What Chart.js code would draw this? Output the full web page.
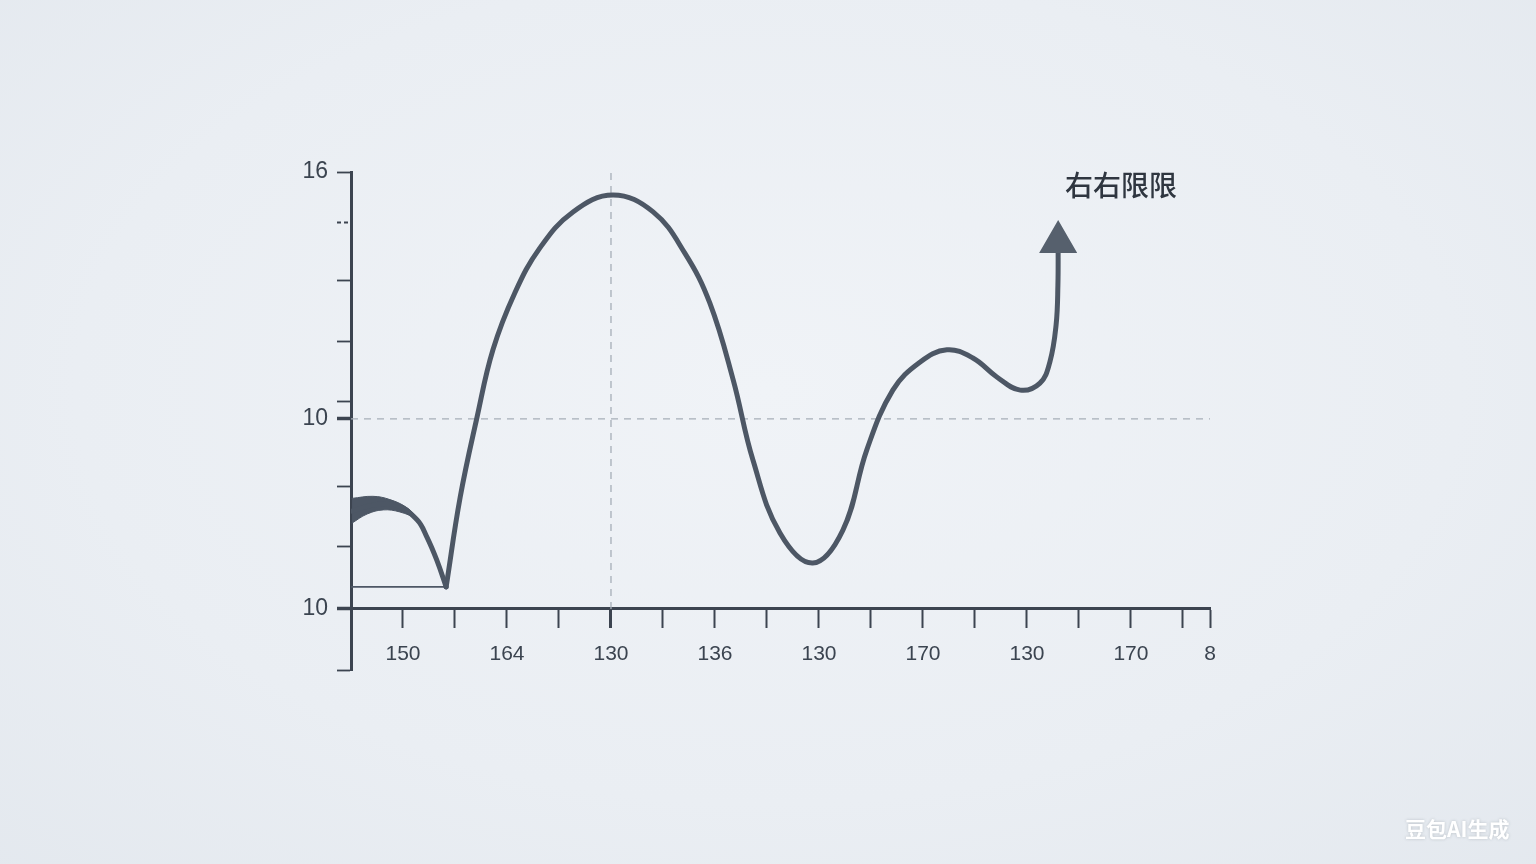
<!DOCTYPE html>
<html lang="zh">
<head>
<meta charset="utf-8">
<title>右右限限</title>
<script src="https://cdn.jsdelivr.net/npm/chart.js@4.4.1/dist/chart.umd.min.js"></script>
<style>
html, body { margin: 0; padding: 0; width: 1536px; height: 864px; overflow: hidden; }
body {
  position: relative;
  background: radial-gradient(ellipse 75% 80% at 50% 45%, #f0f3f7 0%, #eaeef3 60%, #e3e8ee 100%);
}
#chart { position: absolute; left: 0; top: 0; }
.note {
  position: absolute; left: 1065px; top: 169px;
  font: 500 28px/30px "Noto Sans CJK SC", sans-serif;
  color: #2f3640; white-space: nowrap;
}
.mark {
  position: absolute; left: 1405px; top: 815px;
  font: 700 21px/26px "Noto Sans CJK SC", sans-serif;
  color: #ffffff; text-shadow: 0 0 3px rgba(60, 70, 80, 0.25);
  white-space: nowrap;
}
</style>
</head>
<body>
<canvas id="chart" width="1536" height="864"></canvas>
<div class="note">右右限限</div>
<div class="mark">豆包AI生成</div>
<script>
// axis ticks (x in tick units, y in axis units)
const xTickVals = [1, 2, 3, 4, 5, 6, 7, 8, 9, 10, 11, 12, 13, 14, 15, 16, 16.52];
const xTickLabels = ['150', '', '164', '', '130', '', '136', '', '130', '', '170', '', '130', '', '170', '', '8'];
const yTickVals = [3.9, 5.383, 6.889, 8.347, 10, 10.412, 11.87, 13.352, 14.785, 16];
const yTickLabels = ['', '10', '', '', '10', '', '', '', '', '16'];
const axisLevel = 5.383;

// thick blob at the start of the curve
const blobTopX = [0.02, 0.42, 0.75, 1.08, 1.29];
const blobTopY = [8.07, 8.12, 8.04, 7.84, 7.57];
const blobBotX = [0.02, 0.31, 0.62, 0.94, 1.29];
const blobBotY = [7.47, 7.69, 7.79, 7.74, 7.57];

// curve, left part down to the sharp dip
const leftArcX = [0.02, 0.40, 0.85, 1.27, 1.46, 1.65, 1.83];
const leftArcY = [7.76, 7.90, 7.92, 7.55, 7.13, 6.57, 5.92];

// curve, from the dip to the arrow
const mainArcX = [1.83, 2.10, 2.42, 2.73, 3.15, 3.63, 4.27, 5.04, 5.81, 6.42, 6.90, 7.35, 7.73,
  8.25, 8.88, 9.46, 9.92, 10.42, 10.94, 11.46, 11.96, 12.42, 12.87, 13.25, 13.44, 13.56, 13.595, 13.60];
const mainArcY = [5.92, 8.10, 10.02, 11.68, 13.06, 14.15, 15.03, 15.44, 15.03, 14.03, 12.82, 10.95, 9.00,
  7.23, 6.50, 7.30, 9.25, 10.70, 11.38, 11.68, 11.48, 11.02, 10.70, 10.87, 11.38, 12.28, 13.25, 14.30];

// thin line under the dip, dashed guides
const baseX = [0, 1.83];
const baseY = [5.92, 5.92];
const hGuideX = [0, 16.52];
const hGuideY = [10, 10];
const vGuideX = [5, 5];
const vGuideY = [axisLevel, 16];

const ink = '#4d5765';
const axisInk = '#3c4450';

function pts(xs, ys) {
  return xs.map((x, i) => ({ x: x, y: ys[i] }));
}

const lineBase = { pointRadius: 0, fill: false, tension: 0, borderCapStyle: 'round', borderJoinStyle: 'round' };

new Chart(document.getElementById('chart'), {
  type: 'line',
  data: {
    datasets: [
      Object.assign({}, lineBase, {
        data: pts(blobTopX, blobTopY), borderColor: ink, borderWidth: 1,
        backgroundColor: ink, fill: '+1', tension: 0.4, order: 1
      }),
      Object.assign({}, lineBase, {
        data: pts(blobBotX, blobBotY), borderColor: ink, borderWidth: 1,
        tension: 0.4, order: 1
      }),
      Object.assign({}, lineBase, {
        data: pts(leftArcX, leftArcY), borderColor: ink, borderWidth: 5,
        tension: 0.4, order: 0
      }),
      Object.assign({}, lineBase, {
        data: pts(mainArcX, mainArcY), borderColor: ink, borderWidth: 5,
        tension: 0.4, order: 0,
        pointStyle: 'triangle',
        pointRadius: c => c.dataIndex === mainArcX.length - 1 ? 19 : 0,
        pointBackgroundColor: '#56606d', pointBorderColor: '#56606d', pointBorderWidth: 3
      }),
      Object.assign({}, lineBase, {
        data: pts(baseX, baseY), borderColor: ink, borderWidth: 1.8, order: 2
      }),
      Object.assign({}, lineBase, {
        data: pts(hGuideX, hGuideY), borderColor: '#a6aeb8', borderWidth: 1.3,
        borderDash: [7, 6], borderCapStyle: 'butt', order: 3
      }),
      Object.assign({}, lineBase, {
        data: pts(vGuideX, vGuideY), borderColor: '#a6aeb8', borderWidth: 1.3,
        borderDash: [7, 6], borderCapStyle: 'butt', order: 3
      })
    ]
  },
  options: {
    responsive: false,
    animation: false,
    events: [],
    devicePixelRatio: 1,
    layout: { padding: { top: 172, right: 326, bottom: 194, left: 0 } },
    plugins: {
      legend: { display: false },
      tooltip: { enabled: false },
      title: { display: false }
    },
    scales: {
      x: {
        type: 'linear',
        min: 0,
        max: 16.52,
        position: { y: axisLevel },
        afterBuildTicks: s => { s.ticks = xTickVals.map(v => ({ value: v })); },
        border: { display: true, color: axisInk, width: 3 },
        grid: {
          drawOnChartArea: false,
          drawTicks: true,
          tickLength: 18,
          tickColor: axisInk,
          tickWidth: c => (c.tick && c.tick.value === 5 ? 3 : 2)
        },
        ticks: {
          autoSkip: false,
          maxRotation: 0,
          padding: 15,
          color: '#3b4450',
          font: { family: "'Liberation Sans Narrow', 'Liberation Sans', sans-serif", size: 21 },
          callback: (v, i) => xTickLabels[i]
        }
      },
      y: {
        type: 'linear',
        min: 3.9,
        max: 16,
        position: 'left',
        afterFit: s => { s.width = 351; },
        afterBuildTicks: s => { s.ticks = yTickVals.map(v => ({ value: v })); },
        border: { display: true, color: axisInk, width: 3 },
        grid: {
          drawOnChartArea: false,
          drawTicks: true,
          tickLength: 14,
          tickColor: axisInk,
          tickWidth: c => {
            if (!c.tick) return 2;
            if (c.tick.value === 10 || c.tick.value === axisLevel) return 3.5;
            return 1.8;
          },
          tickBorderDash: c => (c.tick && c.tick.value === 14.785 ? [4, 3] : [])
        },
        ticks: {
          autoSkip: false,
          padding: 9,
          color: '#3b4450',
          font: { family: "'Liberation Sans', Arial, sans-serif", size: 23 },
          callback: (v, i) => yTickLabels[i]
        }
      }
    }
  }
});
</script>
</body>
</html>
